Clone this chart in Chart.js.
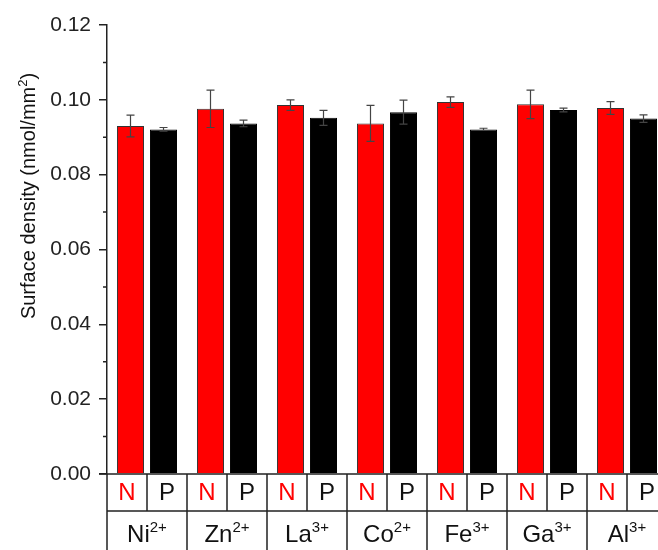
<!DOCTYPE html>
<html>
<head>
<meta charset="utf-8">
<script src="https://cdn.jsdelivr.net/npm/chart.js@4.4.1/dist/chart.umd.min.js"></script>
<style>
  html, body { margin: 0; padding: 0; background: #fff; overflow: hidden; }
  #wrap { width: 658px; height: 550px; overflow: hidden; }
</style>
</head>
<body>
<div id="wrap"><canvas id="chart" width="680" height="550"></canvas></div>
<script>
// ions along the x axis, with their charge written as superscript
const ions = ['Ni', 'Zn', 'La', 'Co', 'Fe', 'Ga', 'Al'];
const charges = ['2+', '2+', '3+', '2+', '3+', '3+', '3+'];
const subLabels = ['N', 'P'];

// surface density (nmol/mm2) and error
const nValues = [0.0930, 0.0976, 0.0986, 0.0937, 0.0994, 0.0988, 0.0978];
const nErrors = [0.0029, 0.0050, 0.0014, 0.0048, 0.0014, 0.0038, 0.0017];
const pValues = [0.0921, 0.0937, 0.0952, 0.0967, 0.0921, 0.0973, 0.0950];
const pErrors = [0.0005, 0.0009, 0.0020, 0.0032, 0.0003, 0.0005, 0.0010];

const yTicks = [0, 0.02, 0.04, 0.06, 0.08, 0.10, 0.12];
const yMinorTicks = [0.01, 0.03, 0.05, 0.07, 0.09, 0.11];

const FONT = "'Liberation Sans', Arial, sans-serif";
const LINE = '#222';

// draws a base text followed by a raised smaller superscript, centred at x
function drawSup(ctx, base, sup, x, y, size, supSize, color, tail) {
  ctx.font = `${size}px ${FONT}`;
  const wb = ctx.measureText(base).width;
  const wt = tail ? ctx.measureText(tail).width : 0;
  ctx.font = `${supSize}px ${FONT}`;
  const ws = ctx.measureText(sup).width;
  const start = x - (wb + ws + wt) / 2;
  ctx.fillStyle = color;
  ctx.textAlign = 'left';
  ctx.textBaseline = 'alphabetic';
  ctx.font = `${size}px ${FONT}`;
  ctx.fillText(base, start, y);
  if (tail) ctx.fillText(tail, start + wb + ws, y);
  ctx.font = `${supSize}px ${FONT}`;
  ctx.fillText(sup, start + wb, y - size * 0.4);
}

const errorBars = {
  id: 'errorBars',
  afterDatasetsDraw(chart) {
    const { ctx } = chart;
    const y = chart.scales.y;
    const errs = [nErrors, pErrors];
    ctx.save();
    ctx.strokeStyle = '#444';
    ctx.lineWidth = 1.2;
    chart.data.datasets.forEach((ds, di) => {
      chart.getDatasetMeta(di).data.forEach((bar, i) => {
        const v = ds.data[i], e = errs[di][i];
        const yt = y.getPixelForValue(v + e);
        const yb = y.getPixelForValue(v - e);
        const x = bar.x;
        ctx.beginPath();
        ctx.moveTo(x, yt); ctx.lineTo(x, yb);
        ctx.moveTo(x - 4, yt); ctx.lineTo(x + 4, yt);
        ctx.moveTo(x - 4, yb); ctx.lineTo(x + 4, yb);
        ctx.stroke();
      });
    });
    ctx.restore();
  }
};

const axisExtras = {
  id: 'axisExtras',
  afterDraw(chart) {
    const { ctx, chartArea } = chart;
    const x = chart.scales.x;
    const y = chart.scales.y;
    const left = chartArea.left, right = chartArea.right, bottom = chartArea.bottom;
    const half = (x.getPixelForValue(1) - x.getPixelForValue(0)) / 2;
    const row1 = bottom + 37;
    const row2 = chart.height;

    ctx.save();
    ctx.strokeStyle = LINE;
    ctx.lineWidth = 1.5;

    // minor y ticks
    ctx.beginPath();
    yMinorTicks.forEach(v => {
      const py = y.getPixelForValue(v);
      ctx.moveTo(left - 4, py); ctx.lineTo(left, py);
    });
    ctx.stroke();

    // the label table under the bars
    ctx.beginPath();
    ctx.moveTo(left - 8, bottom); ctx.lineTo(right, bottom);
    ctx.moveTo(left, row1); ctx.lineTo(right, row1);
    ions.forEach((_, i) => {
      const c = x.getPixelForValue(i);
      ctx.moveTo(c - half, bottom); ctx.lineTo(c - half, row2);
      ctx.moveTo(c, bottom); ctx.lineTo(c, row1);
      ctx.moveTo(c + half, bottom); ctx.lineTo(c + half, row2);
    });
    ctx.stroke();

    ions.forEach((ion, i) => {
      const c = x.getPixelForValue(i);
      ctx.textAlign = 'center';
      ctx.textBaseline = 'middle';
      ctx.font = `24px ${FONT}`;
      ctx.fillStyle = '#ff0000';
      ctx.fillText(subLabels[0], c - half / 2, (bottom + row1) / 2 + 1);
      ctx.fillStyle = '#111';
      ctx.fillText(subLabels[1], c + half / 2, (bottom + row1) / 2 + 1);
      drawSup(ctx, ion, charges[i], c, 542, 24, 15, '#111');
    });

    // rotated y axis title with superscript
    ctx.translate(28, 196);
    ctx.rotate(-Math.PI / 2);
    drawSup(ctx, 'Surface density (nmol/mm', '2', 0, 7, 20, 13, '#111', ')');
    ctx.restore();
  }
};

new Chart(document.getElementById('chart'), {
  type: 'bar',
  data: {
    labels: ions,
    datasets: [
      {
        label: 'N',
        data: nValues,
        backgroundColor: '#ff0000',
        borderColor: '#333',
        borderWidth: 1,
        borderSkipped: 'bottom'
      },
      {
        label: 'P',
        data: pValues,
        backgroundColor: '#000',
        borderColor: '#000',
        borderWidth: 1,
        borderSkipped: 'bottom'
      }
    ]
  },
  options: {
    responsive: false,
    animation: false,
    devicePixelRatio: 1,
    categoryPercentage: 0.825,
    barPercentage: 0.82,
    layout: { padding: { top: 25, right: 13, bottom: 76, left: 0 } },
    plugins: {
      legend: { display: false },
      tooltip: { enabled: false }
    },
    scales: {
      x: { display: false },
      y: {
        min: 0,
        max: 0.12,
        afterFit: s => { s.width = 107; },
        afterBuildTicks: s => { s.ticks = yTicks.map(v => ({ value: v })); },
        border: { display: true, color: LINE, width: 1.5 },
        grid: { drawOnChartArea: false, drawTicks: true, tickLength: 8, color: LINE, lineWidth: 1.5 },
        ticks: {
          padding: 8,
          color: '#222',
          font: { family: FONT, size: 21 },
          callback: v => v.toFixed(2)
        }
      }
    }
  },
  plugins: [errorBars, axisExtras]
});
</script>
</body>
</html>
